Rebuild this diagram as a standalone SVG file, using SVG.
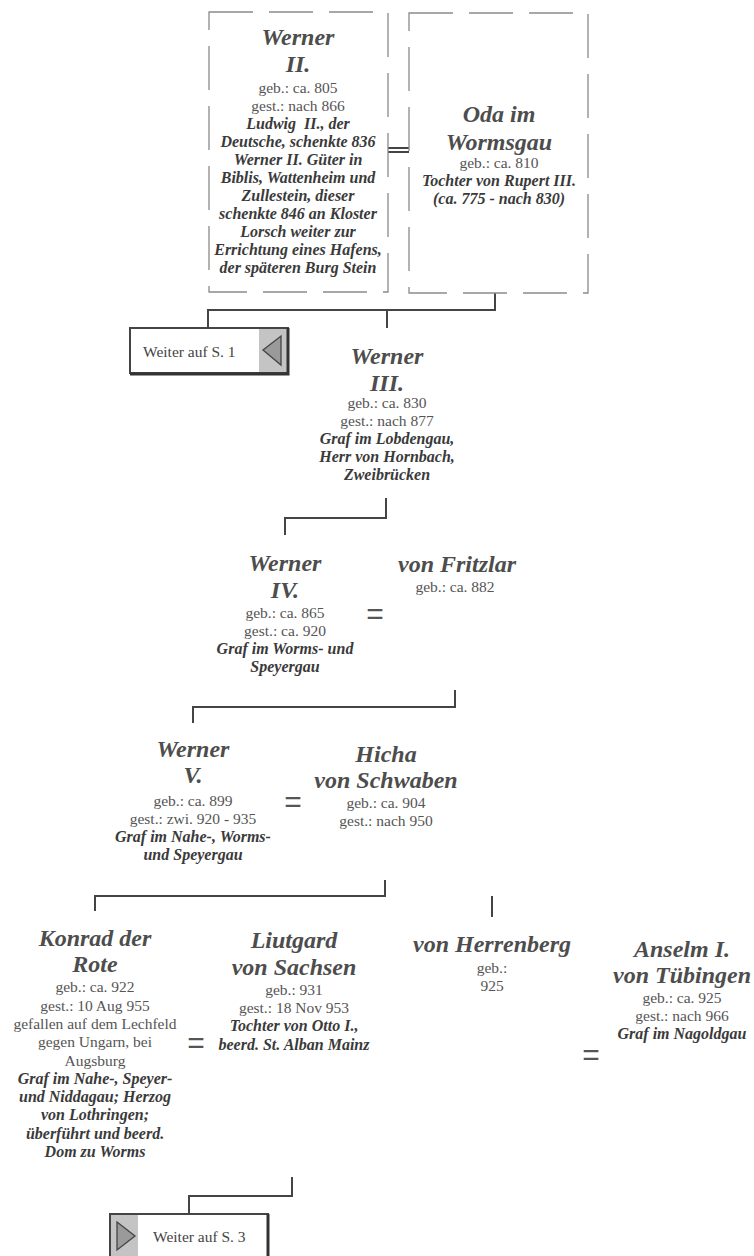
<svg xmlns="http://www.w3.org/2000/svg" width="754" height="1256" viewBox="0 0 754 1256">
<style>
text{font-family:"Liberation Serif","Times New Roman",serif;text-anchor:middle}
.n{font-size:24px;font-weight:bold;font-style:italic;fill:#4d4d4d}
.r{font-size:15.5px;fill:#555}
.i{font-size:16px;font-weight:bold;font-style:italic;fill:#3a3a3a}
.eq{font-size:30px;fill:#555;font-family:"Liberation Sans",Arial,sans-serif}
.dash{fill:none;stroke:#8a8a8a;stroke-width:1.3;stroke-dasharray:44 16}
.c{fill:none;stroke:#444;stroke-width:2}
.bt{font-size:15.5px;fill:#444;text-anchor:start}
</style>
<rect width="754" height="1256" fill="#fff"/>
<g id="connectors">
<path class="c" d="M388 148H409M388 152H409" stroke-width="1.3"/>
<path class="c" d="M495 293V310H208V327M387 310V328"/>
<path class="c" d="M386 498V518H285V535"/>
<path class="c" d="M455 690V707H193V723"/>
<path class="c" d="M385 880V896H95V911M492 896V917"/>
<path class="c" d="M292 1177V1196H189V1213"/>
</g>
<g id="werner2">
<rect class="dash" x="209" y="12" width="179" height="280"/>
<text class="n" x="298" y="45">Werner</text>
<text class="n" x="298" y="72">II.</text>
<text class="r" x="298" y="93">geb.: ca. 805</text>
<text class="r" x="298" y="111">gest.: nach 866</text>
<text class="i" x="298" y="129" style="white-space:pre">Ludwig  II., der</text>
<text class="i" x="298" y="147">Deutsche, schenkte 836</text>
<text class="i" x="298" y="165">Werner II. Güter in</text>
<text class="i" x="298" y="183">Biblis, Wattenheim und</text>
<text class="i" x="298" y="201">Zullestein, dieser</text>
<text class="i" x="298" y="219">schenkte 846 an Kloster</text>
<text class="i" x="298" y="237">Lorsch weiter zur</text>
<text class="i" x="298" y="255">Errichtung eines Hafens,</text>
<text class="i" x="298" y="273">der späteren Burg Stein</text>
</g>
<g id="oda">
<rect class="dash" x="409" y="13" width="179" height="280"/>
<text class="n" x="499" y="122">Oda im</text>
<text class="n" x="499" y="150">Wormsgau</text>
<text class="r" x="499" y="168">geb.: ca. 810</text>
<text class="i" x="499" y="186">Tochter von Rupert III.</text>
<text class="i" x="499" y="204">(ca. 775 - nach 830)</text>
</g>
<g id="weiter1">
<rect x="130" y="328" width="158" height="45" fill="#fff" stroke="#444" stroke-width="2"/>
<rect x="259" y="329" width="28" height="43" fill="#c4c4c4"/>
<path d="M288 328V374H130" fill="none" stroke="#333" stroke-width="3"/>
<path d="M263 350L281 336V365Z" fill="#9a9a9a" stroke="#444" stroke-width="1.3"/>
<text class="bt" x="143" y="357">Weiter auf S. 1</text>
</g>
<g id="werner3">
<text class="n" x="387" y="364">Werner</text>
<text class="n" x="387" y="391">III.</text>
<text class="r" x="387" y="408">geb.: ca. 830</text>
<text class="r" x="387" y="426">gest.: nach 877</text>
<text class="i" x="387" y="444">Graf im Lobdengau,</text>
<text class="i" x="387" y="462">Herr von Hornbach,</text>
<text class="i" x="387" y="480">Zweibrücken</text>
</g>
<g id="werner4">
<text class="n" x="285" y="571">Werner</text>
<text class="n" x="285" y="598">IV.</text>
<text class="r" x="285" y="618">geb.: ca. 865</text>
<text class="r" x="285" y="636">gest.: ca. 920</text>
<text class="i" x="285" y="654">Graf im Worms- und</text>
<text class="i" x="285" y="672">Speyergau</text>
</g>
<text class="eq" x="375" y="624">=</text>
<g id="fritzlar">
<text class="n" x="457" y="572">von Fritzlar</text>
<text class="r" x="455" y="592">geb.: ca. 882</text>
</g>
<g id="werner5">
<text class="n" x="193" y="757">Werner</text>
<text class="n" x="193" y="783">V.</text>
<text class="r" x="193" y="806">geb.: ca. 899</text>
<text class="r" x="193" y="824">gest.: zwi. 920 - 935</text>
<text class="i" x="193" y="842">Graf im Nahe-, Worms-</text>
<text class="i" x="193" y="860">und Speyergau</text>
</g>
<text class="eq" x="293" y="812">=</text>
<g id="hicha">
<text class="n" x="386" y="762">Hicha</text>
<text class="n" x="386" y="788">von Schwaben</text>
<text class="r" x="386" y="808">geb.: ca. 904</text>
<text class="r" x="386" y="826">gest.: nach 950</text>
</g>
<g id="konrad">
<text class="n" x="95" y="946">Konrad der</text>
<text class="n" x="95" y="972">Rote</text>
<text class="r" x="95" y="992">geb.: ca. 922</text>
<text class="r" x="95" y="1011">gest.: 10 Aug 955</text>
<text class="r" x="95" y="1029">gefallen auf dem Lechfeld</text>
<text class="r" x="95" y="1047">gegen Ungarn, bei</text>
<text class="r" x="95" y="1066">Augsburg</text>
<text class="i" x="95" y="1084">Graf im Nahe-, Speyer-</text>
<text class="i" x="95" y="1102">und Niddagau; Herzog</text>
<text class="i" x="95" y="1120">von Lothringen;</text>
<text class="i" x="95" y="1139">überführt und beerd.</text>
<text class="i" x="95" y="1157">Dom zu Worms</text>
</g>
<text class="eq" x="196" y="1053">=</text>
<g id="liutgard">
<text class="n" x="294" y="948">Liutgard</text>
<text class="n" x="294" y="975">von Sachsen</text>
<text class="r" x="294" y="995">geb.: 931</text>
<text class="r" x="294" y="1013">gest.: 18 Nov 953</text>
<text class="i" x="294" y="1031">Tochter von Otto I.,</text>
<text class="i" x="294" y="1050">beerd. St. Alban Mainz</text>
</g>
<g id="herrenberg">
<text class="n" x="492" y="952">von Herrenberg</text>
<text class="r" x="492" y="973">geb.:</text>
<text class="r" x="492" y="991">925</text>
</g>
<text class="eq" x="591" y="1065">=</text>
<g id="anselm">
<text class="n" x="682" y="957">Anselm I.</text>
<text class="n" x="682" y="983">von Tübingen</text>
<text class="r" x="682" y="1003">geb.: ca. 925</text>
<text class="r" x="682" y="1021">gest.: nach 966</text>
<text class="i" x="682" y="1039">Graf im Nagoldgau</text>
</g>
<g id="weiter3">
<rect x="110" y="1214" width="158" height="50" fill="#fff" stroke="#444" stroke-width="2"/>
<rect x="111" y="1215" width="27" height="45" fill="#c4c4c4"/>
<path d="M268 1214V1260" fill="none" stroke="#333" stroke-width="3"/>
<path d="M117 1222L135 1236L117 1250Z" fill="#9a9a9a" stroke="#444" stroke-width="1.3"/>
<text class="bt" x="153" y="1242">Weiter auf S. 3</text>
</g>
</svg>
